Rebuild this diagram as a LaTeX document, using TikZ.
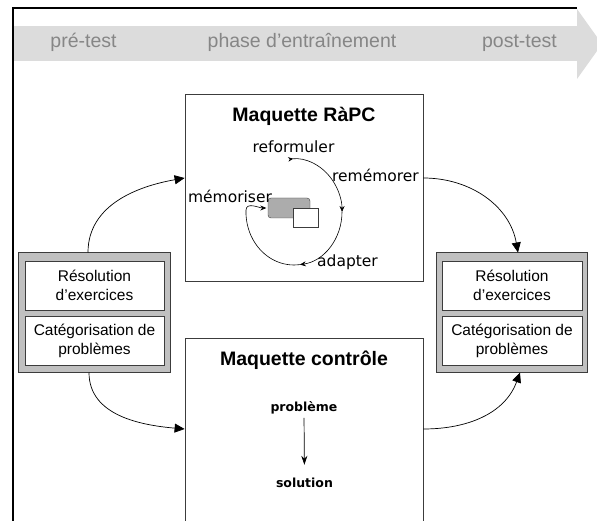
\documentclass[tikz,border=0pt]{standalone}
\usepackage{fontspec}
\setmainfont{Liberation Sans}
\newfontfamily\handfont{DejaVu Sans}
\usetikzlibrary{arrows.meta}
\definecolor{bandgray}{HTML}{DCDCDC}
\definecolor{phasegray}{HTML}{868686}
\definecolor{groupgray}{HTML}{C0C0C0}
\definecolor{edgegray}{HTML}{3C3C3C}

\begin{document}
\begin{tikzpicture}[x=1pt, y=1pt, every node/.style={inner sep=0pt}]
	\tikzset{
		phase/.style={text=phasegray, anchor=base, font=\fontsize{19.5}{23}\selectfont},
		maquette/.style={draw=edgegray, line width=0.8pt, minimum width=238pt},
		titre/.style={anchor=base, font=\bfseries\fontsize{19.5}{23}\selectfont},
		groupe/.style={draw=edgegray, fill=groupgray, line width=1pt, minimum height=119pt},
		tache/.style={draw=edgegray, fill=white, line width=0.8pt, minimum width=139pt, minimum height=49pt, align=center, font=\fontsize{15.5}{19}\selectfont},
		etape/.style={anchor=base, font=\handfont\fontsize{15.5}{18}\selectfont},
		etat/.style={anchor=base, font=\handfont\bfseries\fontsize{12.5}{15}\selectfont},
		lien/.style={line width=0.7pt, -{Triangle[length=10pt,width=9pt]}},
		boucle/.style={line width=0.6pt, -{Stealth[length=6pt,width=5pt]}}
	}
	\useasboundingbox (0,0) rectangle (597,-521);

	\fill[bandgray] (13,-26) rectangle (577,-61);
	\fill[bandgray] (577,-9) -- (602,-44) -- (577,-79) -- cycle;
	\draw[line width=2pt] (13,-521) -- (13,-8) -- (577,-8);
	\node[phase] (pretest)      at (83.5,-48)  {pré-test};
	\node[phase] (entrainement) at (302,-48)   {phase d’entraînement};
	\node[phase] (posttest)     at (519.5,-48) {post-test};

	\node[maquette, minimum height=187pt] (rapc) at (304,-187.5) {};
	\node[maquette, minimum height=190pt] (ctrl) at (304,-433)   {};
	\node[titre] (rapctitre) at (304,-122) {Maquette RàPC};
	\node[titre] (ctrltitre) at (304,-365) {Maquette contrôle};

	\node[groupe, minimum width=152pt] (pre)  at (94,-312.5)  {};
	\node[tache] (pre1) at (94.5,-285.5) {Résolution\\d’exercices};
	\node[tache] (pre2) at (94.5,-340.5) {Catégorisation de\\problèmes};
	\node[groupe, minimum width=151pt] (post) at (511.5,-312.5) {};
	\node[tache, minimum width=140pt] (post1) at (512,-285.5) {Résolution\\d’exercices};
	\node[tache, minimum width=140pt] (post2) at (512,-340.5) {Catégorisation de\\problèmes};

	\node[draw=edgegray, fill=gray!65, rounded corners=3pt, minimum width=42pt, minimum height=20pt] (casebase) at (289,-208) {};
	\node[draw=edgegray, fill=white, minimum width=25pt, minimum height=19pt] (newcase) at (305.5,-217.5) {};
	\node[etape] (reformuler) at (293.5,-153) {reformuler};
	\node[etape] (rememorer)  at (375.5,-182) {remémorer};
	\node[etape] (adapter)    at (347.5,-267) {adapter};
	\node[etape] (memoriser)  at (230,-203)   {mémoriser};
	\draw[line width=0.6pt, {Stealth[reversed,length=5pt,width=4.5pt]}-{Stealth[length=6pt,width=5pt]}]
		(288.2,-159.4) arc[start angle=97, end angle=0, x radius=48, y radius=53];
	\draw[boucle] (342,-212) arc[start angle=0, end angle=-83, x radius=48, y radius=53];
	\draw[boucle, shorten >=1.5pt] (299.8,-264.6) arc[start angle=-83, end angle=-182, x radius=48, y radius=53]
		to[out=88,in=180] (casebase.west);

	\node[etat] (probleme) at (304,-411) {problème};
	\node[etat] (solution) at (304.5,-487) {solution};
	\draw[line width=0.7pt, -{Stealth[length=9pt,width=6pt]}, shorten <=4pt, shorten >=12.5pt] (probleme.south) -- (solution.north);

	\coordinate (c1) at ([xshift=-6pt]pre.north);
	\coordinate (c2) at ([yshift=9.5pt]rapc.west);
	\coordinate (c3) at ([yshift=9.5pt]rapc.east);
	\coordinate (c4) at ([xshift=6.5pt]post.north);
	\coordinate (c5) at ([xshift=-5pt]pre.south);
	\coordinate (c6) at ([yshift=4pt]ctrl.west);
	\coordinate (c7) at ([yshift=4pt]ctrl.east);
	\coordinate (c8) at ([xshift=8.5pt]post.south);
	\foreach \from/\to/\o/\i in {
		c1/c2/90/190, c3/c4/0/100,
		c5/c6/270/175, c7/c8/0/250}
	\draw[lien] (\from) to[out=\o,in=\i] (\to);
\end{tikzpicture}
\end{document}
